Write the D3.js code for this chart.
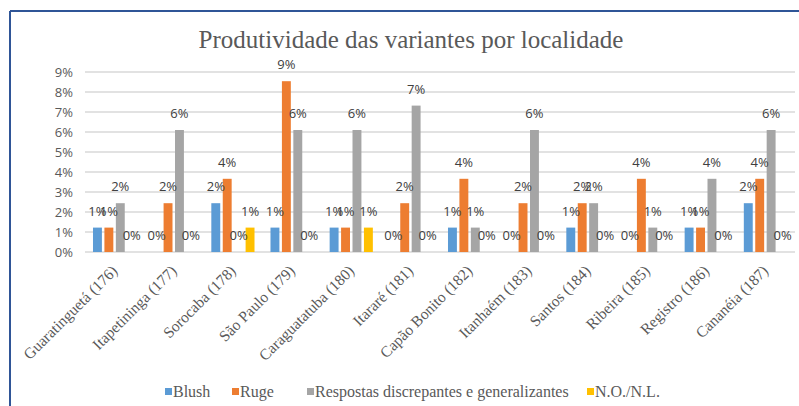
<!DOCTYPE html>
<html>
<head>
<meta charset="utf-8">
<script src="https://cdn.jsdelivr.net/npm/d3@7"></script>
<style>
  body { margin: 0; background: #fff; }
  svg { display: block; }
</style>
</head>
<body>
<script>
var localidades = ["Guaratinguetá (176)", "Itapetininga (177)", "Sorocaba (178)", "São Paulo (179)",
  "Caraguatatuba (180)", "Itararé (181)", "Capão Bonito (182)", "Itanhaém (183)",
  "Santos (184)", "Ribeira (185)", "Registro (186)", "Cananéia (187)"];

var series = ["Blush", "Ruge", "Respostas discrepantes e generalizantes", "N.O./N.L."];

// valores em %
var blush     = [1.22, 0, 2.44, 1.22, 1.22, 0, 1.22, 0, 1.22, 0, 1.22, 2.44];
var ruge      = [1.22, 2.44, 3.66, 8.54, 1.22, 2.44, 3.66, 2.44, 2.44, 3.66, 1.22, 3.66];
var respostas = [2.44, 6.10, 0, 6.10, 6.10, 7.32, 1.22, 6.10, 2.44, 1.22, 3.66, 6.10];
var naoObtido = [0, 0, 1.22, 0, 1.22, 0, 0, 0, 0, 0, 0, 0];

var yTicks = [0, 1, 2, 3, 4, 5, 6, 7, 8, 9];

var colors = ["#5B9BD5", "#ED7D31", "#A5A5A5", "#FFC000"];

var valores = [blush, ruge, respostas, naoObtido];
var data = localidades.map(function(loc, i) {
  return { loc: loc, vals: valores.map(function(v, s) { return { s: s, v: v[i] }; }) };
});

var width = 799, height = 406;
var margin = { top: 72, right: 4, bottom: 154, left: 85 };

var serif = "'Liberation Serif', 'Times New Roman', serif";
var sans = "'Open Sans', 'Liberation Sans', sans-serif";

var svg = d3.select("body").append("svg")
  .attr("width", width)
  .attr("height", height);

// moldura azul
svg.append("line").attr("x1", 10).attr("x2", width).attr("y1", 11).attr("y2", 11)
  .attr("stroke", "#2F5597").attr("stroke-width", 2);
svg.append("line").attr("x1", 10).attr("x2", 10).attr("y1", 11).attr("y2", height)
  .attr("stroke", "#2F5597").attr("stroke-width", 2);

var x0 = d3.scaleBand()
  .domain(localidades)
  .range([margin.left, width - margin.right])
  .paddingInner(0.27)
  .paddingOuter(0.135);

var x1 = d3.scaleBand()
  .domain(d3.range(series.length))
  .range([0, x0.bandwidth()])
  .paddingInner(0.22);

var y = d3.scaleLinear()
  .domain([0, 9])
  .range([height - margin.bottom, margin.top]);

// linhas de grade
svg.append("g").selectAll("line")
  .data(yTicks)
  .enter().append("line")
  .attr("x1", margin.left)
  .attr("x2", width - margin.right)
  .attr("y1", function(d) { return y(d); })
  .attr("y2", function(d) { return y(d); })
  .attr("stroke", "#D9D9D9")
  .attr("stroke-width", 1.3);

// eixo y
var yAxis = svg.append("g")
  .attr("transform", "translate(" + (margin.left - 12) + ",0)")
  .call(d3.axisLeft(y).tickValues(yTicks).tickSize(0).tickFormat(function(d) { return d + "%"; }));
yAxis.select(".domain").remove();
yAxis.selectAll("text")
  .attr("font-family", sans)
  .attr("font-size", 13)
  .attr("fill", "#595959")
  .attr("x", 0);

// barras
var grupos = svg.append("g").selectAll("g")
  .data(data)
  .enter().append("g")
  .attr("transform", function(d) { return "translate(" + x0(d.loc) + ",0)"; });

grupos.selectAll("rect")
  .data(function(d) { return d.vals; })
  .enter().append("rect")
  .attr("x", function(d) { return x1(d.s); })
  .attr("width", x1.bandwidth())
  .attr("y", function(d) { return y(d.v); })
  .attr("height", function(d) { return y(0) - y(d.v); })
  .attr("fill", function(d) { return colors[d.s]; });

grupos.selectAll("text")
  .data(function(d) { return d.vals; })
  .enter().append("text")
  .attr("x", function(d) { return x1(d.s) + x1.bandwidth() / 2; })
  .attr("y", function(d) { return y(d.v) - 12; })
  .attr("text-anchor", "middle")
  .attr("font-family", sans)
  .attr("font-size", 13)
  .attr("fill", "#404040")
  .text(function(d) { return Math.round(d.v) + "%"; });

// rótulos do eixo x
var xAxis = svg.append("g")
  .attr("transform", "translate(0," + y(0) + ")")
  .call(d3.axisBottom(x0).tickSize(0));
xAxis.select(".domain").remove();
xAxis.selectAll("text")
  .attr("font-family", serif)
  .attr("font-size", 15.5)
  .attr("fill", "#595959")
  .attr("text-anchor", "end")
  .attr("transform", "translate(0,16) rotate(-45)")
  .attr("dy", "0.35em")
  .attr("y", 0);

// título
svg.append("text")
  .attr("x", 411)
  .attr("y", 48)
  .attr("text-anchor", "middle")
  .attr("font-family", serif)
  .attr("font-size", 25)
  .attr("fill", "#595959")
  .text("Produtividade das variantes por localidade");

// legenda
var legendX = [165, 232, 307, 587];
var legenda = svg.append("g").selectAll("g")
  .data(series)
  .enter().append("g")
  .attr("transform", function(d, i) { return "translate(" + legendX[i] + ",392)"; });
legenda.append("rect")
  .attr("x", 0).attr("y", -4)
  .attr("width", 7).attr("height", 7)
  .attr("fill", function(d, i) { return colors[i]; });
legenda.append("text")
  .attr("x", 8)
  .attr("y", 5)
  .attr("font-family", serif)
  .attr("font-size", 16)
  .attr("fill", "#595959")
  .text(function(d) { return d; });
</script>
</body>
</html>
